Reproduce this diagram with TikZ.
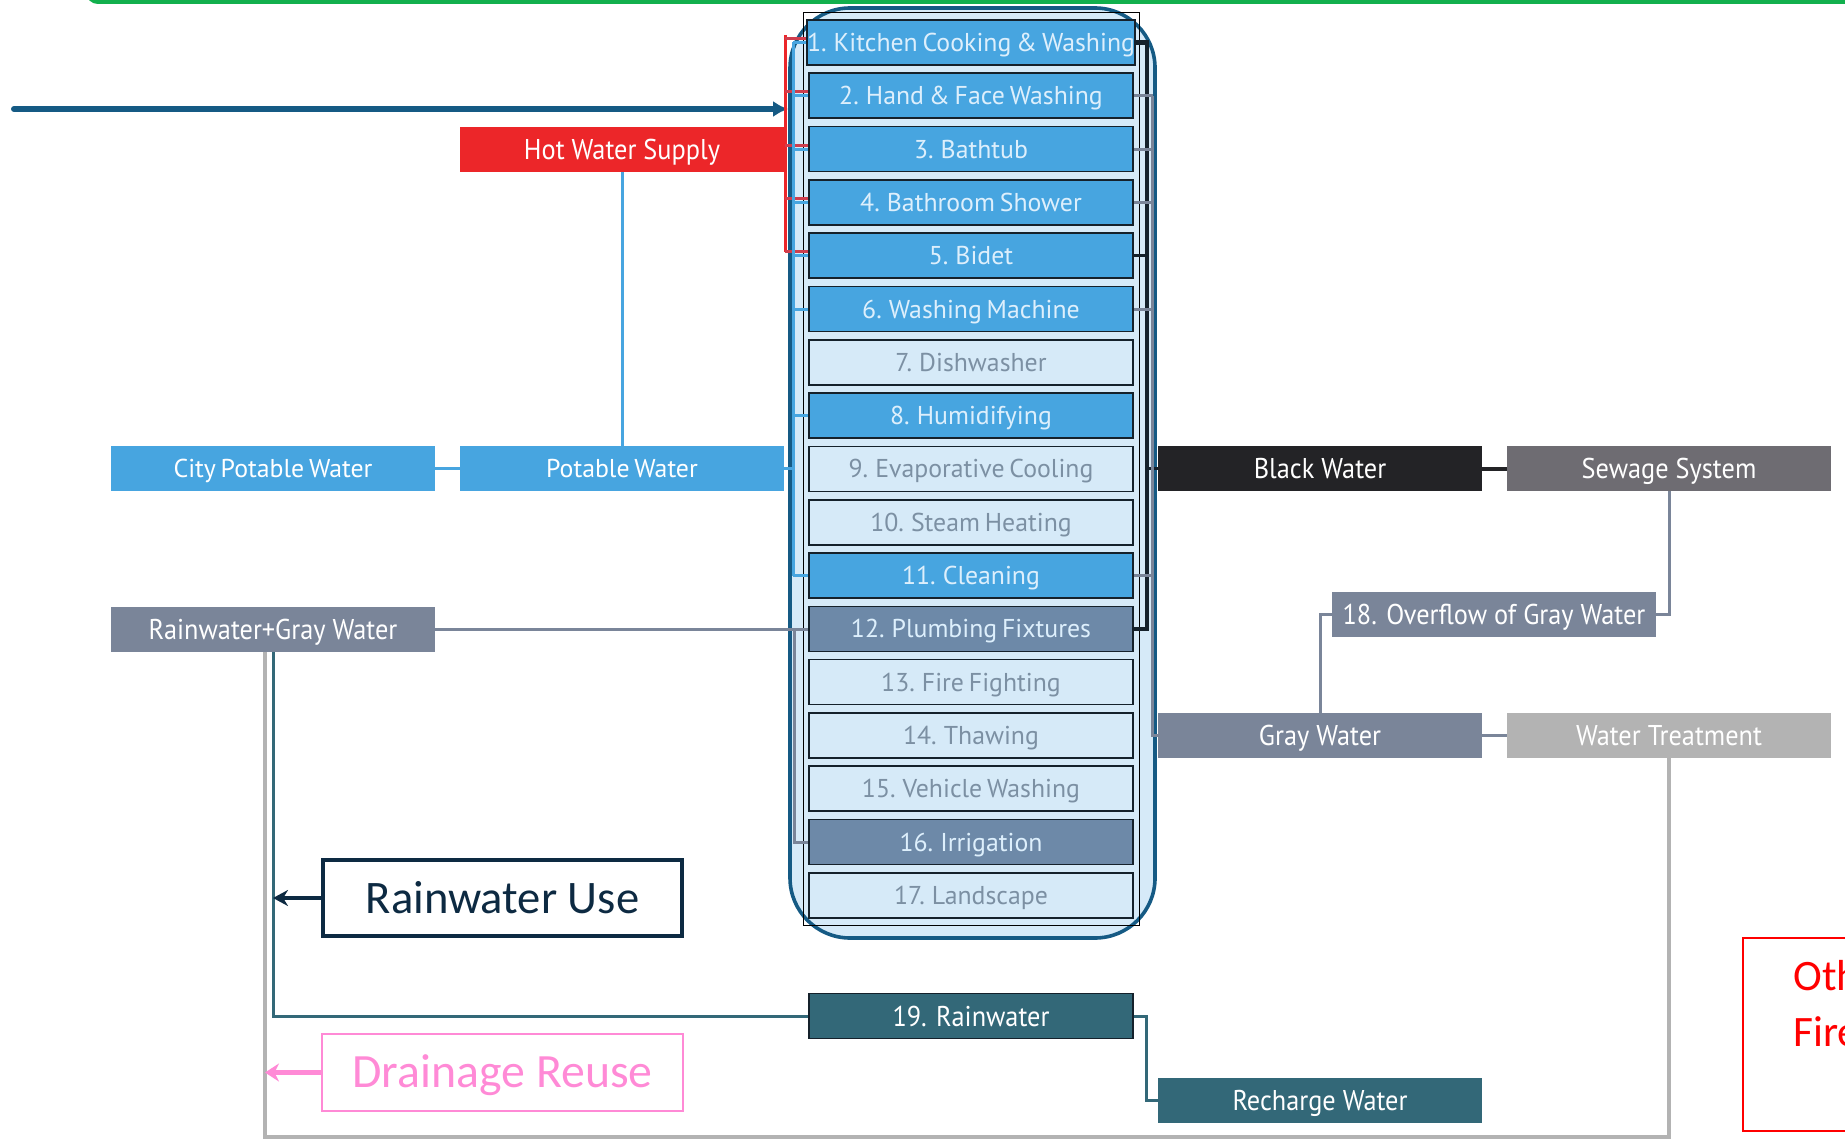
\documentclass[tikz,border=0pt]{standalone}
\usepackage{fontspec}
\setmainfont{PT Sans}
\newfontfamily\itemfont[WordSpace=0.7]{PT Sans}
\newfontfamily\boxfont[FakeStretch=0.92]{PT Sans}
\newfontfamily\calfont{Carlito}
\usetikzlibrary{arrows.meta,calc}

\definecolor{frameblue}{HTML}{155A84}
\definecolor{paleblue}{HTML}{D6EAF8}
\definecolor{useblue}{HTML}{47A5E0}
\definecolor{itemtext}{HTML}{DDEFFC}
\definecolor{offtext}{HTML}{7C90A3}
\definecolor{slateblue}{HTML}{6D89A8}
\definecolor{itemline}{HTML}{15212B}
\definecolor{hotred}{HTML}{EC2629}
\definecolor{tickred}{HTML}{CF3E4E}
\definecolor{blackw}{HTML}{232326}
\definecolor{sewage}{HTML}{6E6C72}
\definecolor{grayw}{HTML}{7A8599}
\definecolor{treatgray}{HTML}{B3B3B3}
\definecolor{rainteal}{HTML}{336878}
\definecolor{navy}{HTML}{0D2A42}
\definecolor{pinkline}{HTML}{FF8AD6}
\definecolor{topgreen}{HTML}{12B04D}

\tikzset{
  item/.style={draw=itemline,line width=0.8pt,minimum width=162pt,minimum height=22.5pt,inner sep=0pt,
    text height=9pt,text depth=0pt,font=\itemfont\fontsize{12.9}{14}\selectfont},
  useon/.style={item,fill=useblue,text=itemtext},
  useoff/.style={item,fill=paleblue,text=offtext},
  useslate/.style={item,fill=slateblue,text=itemtext},
  flow/.style={minimum width=162pt,minimum height=22.5pt,inner sep=0pt,text=white,
    text height=10pt,text depth=0pt,font=\boxfont\fontsize{14.3}{16}\selectfont},
  source/.style={flow,fill=useblue,text height=9pt,font=\itemfont\fontsize{12.9}{14}\selectfont},
  pipe/.style={line width=1.5pt},
}

\begin{document}
\begin{tikzpicture}[x=0.5pt,y=-0.5pt]
\useasboundingbox (0,0) rectangle (1845,1139);
% top border
\draw[topgreen,line width=2pt,rounded corners=5pt] (88,-30) -- (88,2) -- (1870,2);
% usage panel
\node[draw=frameblue,fill=paleblue,line width=1.8pt,rounded corners=30pt,inner sep=0pt,
  minimum width=182.5pt,minimum height=465pt] (panel) at (972.5,473) {};
\node[draw=black,line width=0.5pt,inner sep=0pt,minimum width=168pt,minimum height=456pt] (frame) at (971,469) {};
% uses
\foreach \k/\s/\t in {1/useon/{1. Kitchen Cooking \& Washing},2/useon/{2. Hand \& Face Washing},
  3/useon/{3. Bathtub},4/useon/{4. Bathroom Shower},5/useon/{5. Bidet},6/useon/{6. Washing Machine},
  7/useoff/{7. Dishwasher},8/useon/{8. Humidifying},9/useoff/{9. Evaporative Cooling},
  10/useoff/{10. Steam Heating},11/useon/{11. Cleaning},12/useslate/{12. Plumbing Fixtures},
  13/useoff/{13. Fire Fighting},14/useoff/{14. Thawing},15/useoff/{15. Vehicle Washing},
  16/useslate/{16. Irrigation},17/useoff/{17. Landscape}}
  \node[\s] (r\k) at (971,{42.5+(\k-1)*53.3}) {\t};
% sources and outlets
\node[flow,fill=hotred] (hot) at (622,149.5) {Hot Water Supply};
\node[source] (potable) at (622,468.5) {Potable Water};
\node[source] (city) at (273,468.5) {City Potable Water};
\node[flow,fill=grayw] (raingray) at (273,629) {Rainwater+Gray Water};
\node[flow,fill=blackw] (black) at (1320,468.5) {Black Water};
\node[flow,fill=sewage] (sewer) at (1669,468.5) {Sewage System};
\node[flow,fill=grayw] (overflow) at (1494,614) {18. Overflow of Gray Water};
\node[flow,fill=grayw] (gray) at (1320,735.5) {Gray Water};
\node[flow,fill=treatgray] (treat) at (1669,735.5) {Water Treatment};
\node[flow,fill=rainteal,draw=itemline,line width=0.8pt] (rain) at (971,1016) {19. Rainwater};
\node[flow,fill=rainteal] (recharge) at (1320,1100.5) {Recharge Water};
\node[draw=navy,line width=2.3pt,text=navy,inner sep=0pt,minimum width=179.5pt,minimum height=38pt,
  text height=15pt,text depth=0pt,font=\calfont\fontsize{23.3}{26}\selectfont] (rwuse) at (502.5,898) {Rainwater Use};
\node[draw=pinkline,line width=0.8pt,text=pinkline,inner sep=0pt,minimum width=180.5pt,minimum height=38.5pt,
  text height=15pt,text depth=0pt,font=\calfont\fontsize{23.9}{26}\selectfont] (reuse) at (502.5,1072.5) {Drainage Reuse};
\node[draw=red,line width=0.8pt,inner sep=0pt,minimum width=100pt,minimum height=96.5pt,anchor=north west] (other) at (1742,937) {};
\node[text=red,inner sep=0pt,anchor=north west,align=left,
  font=\calfont\fontsize{21.7}{28}\selectfont] (othertext) at (1793,960) {Other\\Fire};
% feed arrow
\coordinate (feed) at (14,109);
\draw[frameblue,line width=3pt,line cap=round,-{Latex[length=7.5pt,width=8pt]}] (feed) -- (feed -| panel.west);
% hot water lines
\coordinate (hotbus) at ([xshift=-10.5pt]r1.west);
\draw[hotred,pipe] ([yshift=3.5pt]hotbus) -- ([yshift=2pt]hotbus |- r5.west);
\foreach \k in {1,...,5} \draw[tickred,pipe] ([yshift=2pt]r\k.west) -- ([yshift=2pt]r\k.west -| hotbus);
\draw[hotred,pipe] (hot.east) -- (hot.east -| hotbus);
% potable water lines
\coordinate (potbus) at ([xshift=-6.5pt]r1.west);
\draw[useblue,pipe] (potbus) -- (potbus |- r11.west);
\foreach \k in {1,...,6,8,11} \draw[useblue,pipe] (r\k.west) -- (r\k.west -| potbus);
\draw[useblue,pipe] (potable.east) -- (potable.east -| potbus);
\draw[useblue,pipe] (city) -- (potable);
\draw[useblue,pipe] (hot) -- (potable);
% reused water lines
\coordinate (slatebus) at ([xshift=-7pt]r12.west);
\draw[grayw,pipe] (raingray.east) -- (raingray.east -| r12.west);
\draw[grayw,pipe] (slatebus) |- (r16.west);
% black water lines
\coordinate (blackbus) at ([xshift=5.5pt]r1.east);
\draw[itemline,line width=2.1pt] (r1.east) -| (r12.east -| blackbus) -- (r12.east);
\draw[itemline,pipe] (r5.east) -- (r5.east -| blackbus);
\draw[itemline,pipe] (black.west) -- (black.west -| blackbus);
% gray water lines
\coordinate (graybus) at ([xshift=9.5pt]r2.east);
\draw[grayw,pipe] (graybus) |- (gray.west);
\foreach \k in {2,3,4,6,11} \draw[grayw,pipe] (r\k.east) -- (r\k.east -| graybus);
% right side
\draw[blackw,line width=2pt] (black) -- (sewer);
\draw[grayw,pipe] (sewer.south) |- (overflow.east);
\draw[grayw,pipe] (overflow.west) -| (gray.north);
\draw[grayw,pipe] (gray) -- (treat);
% return lines
\coordinate (floor) at (0,1137);
\coordinate (reusebus) at ([xshift=-4pt]raingray.south);
\draw[treatgray,line width=1.8pt] (treat.south) -- (treat.south |- floor) -| (reusebus);
\draw[rainteal,pipe] (rain.west) -| (raingray.south);
\draw[rainteal,pipe] (rain.east) -- ++(13,0) |- (recharge.west);
\draw[navy,line width=2pt,-{Stealth[length=7.5pt,width=8pt]}] (rwuse.west) -- (rwuse.west -| raingray.south);
\draw[pinkline,line width=2.5pt,-{Stealth[length=7pt,width=9pt]}] (reuse.west) -- (reuse.west -| reusebus);
\end{tikzpicture}
\end{document}
